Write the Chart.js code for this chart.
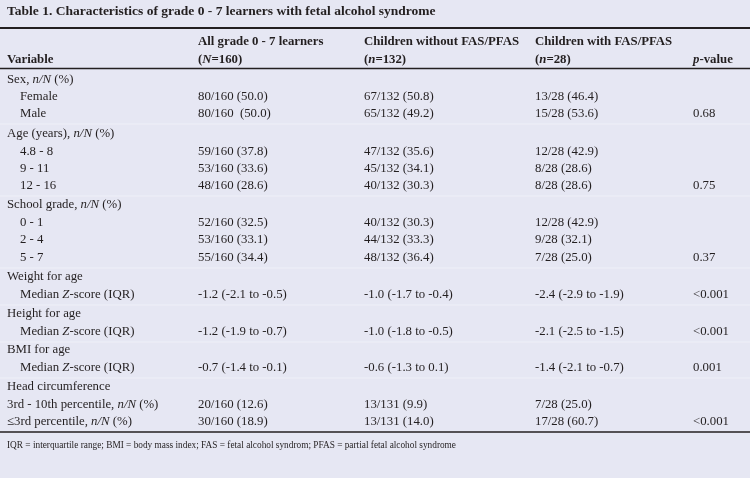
<!DOCTYPE html>
<html><head><meta charset="utf-8">
<script src="https://cdn.jsdelivr.net/npm/chart.js@4"></script>
<style>html,body{margin:0;padding:0;background:#e6e7f3}#c{display:block}</style>
</head><body>
<div style="width:750px;height:478px"><canvas id="c"></canvas></div>
<script>
const title = 'Table 1. Characteristics of grade 0 - 7 learners with fetal alcohol syndrome';
const headers1 = ['', 'All grade 0 - 7 learners', 'Children without FAS/PFAS', 'Children with FAS/PFAS', ''];
const headers2 = ['Variable', '(|N|=160)', '(|n|=132)', '(|n|=28)', '|p|-value'];
const colX = [7, 198, 364, 535, 693];

// [label, indent, all, without, with, p]
const rows = [
  ['Sex, |n/N| (%)', 0, '', '', '', ''],
  ['Female', 1, '80/160 (50.0)', '67/132 (50.8)', '13/28 (46.4)', ''],
  ['Male', 1, '80/160  (50.0)', '65/132 (49.2)', '15/28 (53.6)', '0.68'],
  ['Age (years), |n/N| (%)', 0, '', '', '', ''],
  ['4.8 - 8', 1, '59/160 (37.8)', '47/132 (35.6)', '12/28 (42.9)', ''],
  ['9 - 11', 1, '53/160 (33.6)', '45/132 (34.1)', '8/28 (28.6)', ''],
  ['12 - 16', 1, '48/160 (28.6)', '40/132 (30.3)', '8/28 (28.6)', '0.75'],
  ['School grade, |n/N| (%)', 0, '', '', '', ''],
  ['0 - 1', 1, '52/160 (32.5)', '40/132 (30.3)', '12/28 (42.9)', ''],
  ['2 - 4', 1, '53/160 (33.1)', '44/132 (33.3)', '9/28 (32.1)', ''],
  ['5 - 7', 1, '55/160 (34.4)', '48/132 (36.4)', '7/28 (25.0)', '0.37'],
  ['Weight for age', 0, '', '', '', ''],
  ['Median |Z|-score (IQR)', 1, '-1.2 (-2.1 to -0.5)', '-1.0 (-1.7 to -0.4)', '-2.4 (-2.9 to -1.9)', '<0.001'],
  ['Height for age', 0, '', '', '', ''],
  ['Median |Z|-score (IQR)', 1, '-1.2 (-1.9 to -0.7)', '-1.0 (-1.8 to -0.5)', '-2.1 (-2.5 to -1.5)', '<0.001'],
  ['BMI for age', 0, '', '', '', ''],
  ['Median |Z|-score (IQR)', 1, '-0.7 (-1.4 to -0.1)', '-0.6 (-1.3 to 0.1)', '-1.4 (-2.1 to -0.7)', '0.001'],
  ['Head circumference', 0, '', '', '', ''],
  ['3rd - 10th percentile, |n/N| (%)', 0, '20/160 (12.6)', '13/131 (9.9)', '7/28 (25.0)', ''],
  ['≤3rd percentile, |n/N| (%)', 0, '30/160 (18.9)', '13/131 (14.0)', '17/28 (60.7)', '<0.001']
];
const rowY = [80, 97, 114, 134, 152, 169, 186, 205, 223, 240, 258, 277, 295, 314, 332, 350, 368, 387, 405, 422];
const groupLines = [124, 196, 268, 305, 342, 378];
const footnote = 'IQR = interquartile range; BMI = body mass index; FAS = fetal alcohol syndrom; PFAS = partial fetal alcohol syndrome';

const FONT = '"Liberation Serif", "DejaVu Serif", serif';

// draw text where |...| segments are italic
function richText(ctx, str, x, y, size, bold) {
  const parts = str.split('|');
  let cx = x;
  parts.forEach((p, i) => {
    ctx.font = (i % 2 ? 'italic ' : '') + (bold ? 'bold ' : '') + size + 'px ' + FONT;
    ctx.fillText(p, cx, y);
    cx += ctx.measureText(p).width;
  });
}

const tablePlugin = {
  id: 'table',
  afterDraw(chart) {
    const {ctx, scales: {x, y}} = chart;
    const px = v => x.getPixelForValue(v);
    const py = v => y.getPixelForValue(v);
    ctx.save();
    ctx.fillStyle = '#231f20';
    ctx.textBaseline = 'middle';
    richText(ctx, title, px(7), py(12), 13.5, true);

    const hline = (yy, w, col) => {
      ctx.strokeStyle = col; ctx.lineWidth = w;
      ctx.beginPath(); ctx.moveTo(px(0), py(yy)); ctx.lineTo(px(750), py(yy)); ctx.stroke();
    };
    hline(28, 2.2, '#231f20');
    hline(68.5, 1.5, '#231f20');
    hline(432, 1.5, '#231f20');
    groupLines.forEach(g => hline(g, 1, '#eff0f8'));

    headers1.forEach((h, i) => richText(ctx, h, px(colX[i]), py(42), 12.8, true));
    headers2.forEach((h, i) => richText(ctx, h, px(colX[i]), py(60), 12.8, true));

    rows.forEach((r, i) => {
      const yy = py(rowY[i]);
      richText(ctx, r[0], px(colX[0] + (r[1] ? 13 : 0)), yy, 12.8, false);
      for (let c = 2; c < 6; c++) richText(ctx, r[c], px(colX[c - 1]), yy, 12.8, false);
    });
    richText(ctx, footnote, px(7), py(446), 9.3, false);
    ctx.restore();
  }
};

new Chart(document.getElementById('c'), {
  type: 'scatter',
  data: {datasets: []},
  options: {
    responsive: true, maintainAspectRatio: false, animation: false,
    layout: {padding: 0},
    plugins: {legend: {display: false}, tooltip: {enabled: false}},
    scales: {
      x: {type: 'linear', min: 0, max: 750, display: false},
      y: {type: 'linear', min: 0, max: 478, reverse: true, display: false}
    }
  },
  plugins: [tablePlugin]
});
</script>
</body></html>
